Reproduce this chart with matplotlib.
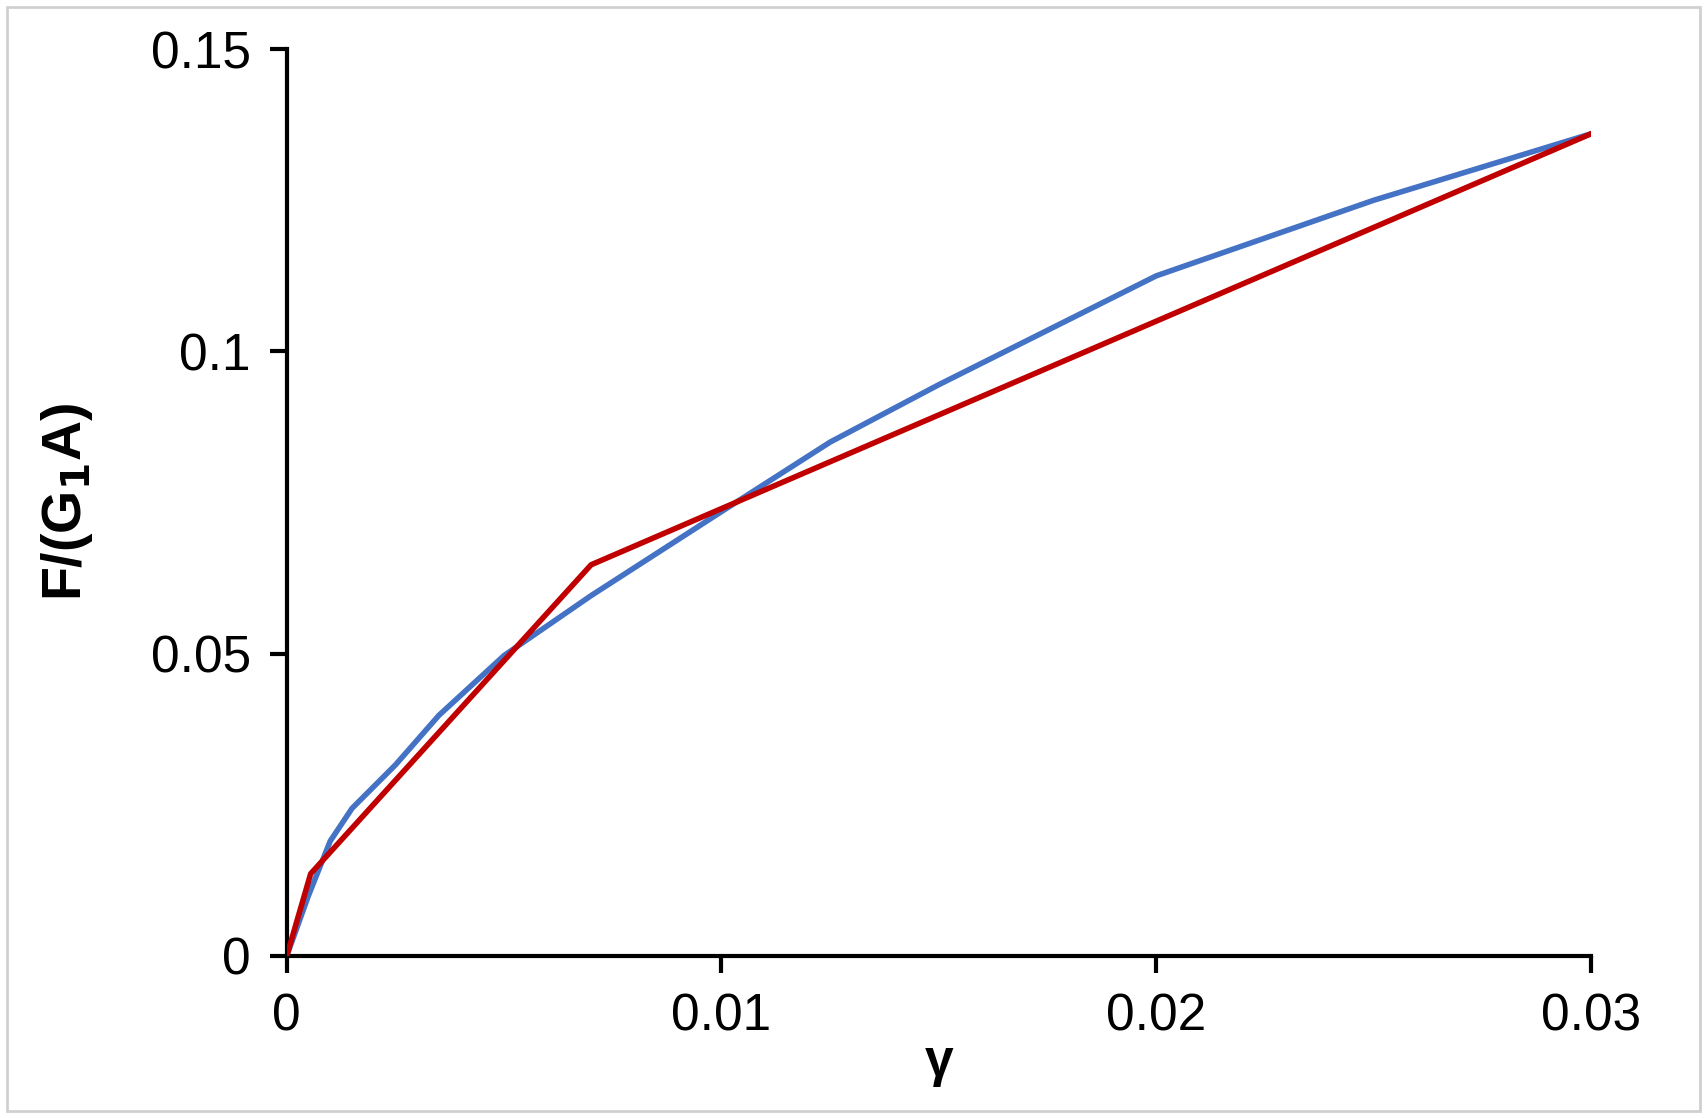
import matplotlib.pyplot as plt
from matplotlib.patches import Rectangle

# blue: smooth model curve, red: piecewise-linear fit
blue_x = [0, 0.0005, 0.001, 0.0015, 0.0025, 0.0035, 0.005, 0.007, 0.01, 0.0125, 0.015, 0.02, 0.025, 0.03]
blue_y = [0, 0.010, 0.019, 0.0244, 0.0316, 0.0398, 0.0497, 0.0596, 0.0735, 0.085, 0.0945, 0.1125, 0.125, 0.136]
red_x = [0, 0.00055, 0.007, 0.03]
red_y = [0, 0.0136, 0.0647, 0.136]

plt.rcParams['font.family'] = ['Liberation Sans', 'DejaVu Sans']

fig = plt.figure(figsize=(17.07, 11.18), dpi=100)
ax = fig.add_axes([0.168, 0.145, 0.764, 0.811])
fig.patches.append(Rectangle((0.004, 0.006), 0.992, 0.988, transform=fig.transFigure,
                             fill=False, ec='#d0d0d0', lw=2))

ax.plot(blue_x, blue_y, color='#4472c4', lw=4, zorder=2)
ax.plot(red_x, red_y, color='#c00000', lw=4, zorder=3)

ax.set_xlim(0, 0.03)
ax.set_ylim(0, 0.15)
ax.set_xticks([0, 0.01, 0.02, 0.03])
ax.set_xticklabels(['0', '0.01', '0.02', '0.03'])
ax.set_yticks([0, 0.05, 0.1, 0.15])
ax.set_yticklabels(['0', '0.05', '0.1', '0.15'])
for s in ['top', 'right']:
    ax.spines[s].set_visible(False)
for s in ['left', 'bottom']:
    ax.spines[s].set_linewidth(3)
ax.tick_params(direction='out', length=12, width=3, labelsize=37, pad=14)
ax.set_xlabel('γ', fontsize=37, fontweight='bold', labelpad=-2)
ax.set_ylabel('F/(G$_\\mathbf{1}$A)', fontsize=40, fontweight='bold', labelpad=40)

fig.savefig('out.png', dpi=100)
